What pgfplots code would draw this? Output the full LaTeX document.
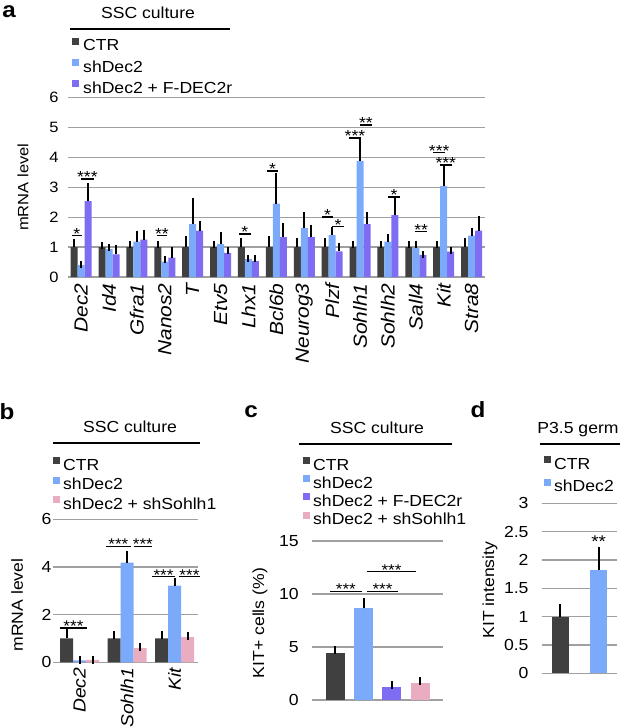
\documentclass[border=0pt]{standalone}
\usepackage{fontspec}
\setmainfont{Liberation Sans}[FakeStretch=1.1]
\usepackage{pgfplots}
\pgfplotsset{compat=1.18}
\definecolor{ctr}{RGB}{64,64,64}
\definecolor{shd}{RGB}{124,170,250}
\definecolor{fdec}{RGB}{126,108,242}
\definecolor{pnk}{RGB}{234,172,192}
\definecolor{gridc}{RGB}{160,160,160}
\newcommand\fs[1]{\fontsize{#1}{#1}\selectfont}
\newcommand\sigsize{16}
\newcommand\sig[4]{\draw[line width=1.5pt] (axis cs:#1,#3) -- (axis cs:#2,#3) node[midway, anchor=base, inner sep=0pt, yshift=-3.5pt, font=\fs{\sigsize}] {#4};}
\pgfplotsset{
  base/.style={
    scale only axis,
    axis x line=bottom, axis y line=left,
    x axis line style={draw=gridc, line width=1.2pt, -},
    y axis line style={draw=none},
    major tick length=0pt,
    ymajorgrids, grid style={gridc, line width=1.2pt},
    /pgf/number format/assume math mode=true,
    clip=false,
    legend cell align=left,
  },
  errb/.style={error bars/.cd, y dir=plus, y explicit,
    error bar style={black, line width=2pt},
    error mark options={black, line width=2pt, mark size=#1}},
  sq/.style={legend image code/.code={\fill[##1, draw=none] (0pt,2pt) rectangle (7pt,9pt);}},
}
\begin{document}
\begin{tikzpicture}
\path[use as bounding box] (0pt,0pt) rectangle (620pt,-727pt);
% ---------------- panel a
\begin{axis}[base, at={(68pt,-277pt)}, anchor=south west,
  width=417pt, height=179.5pt,
  xmin=-0.47, xmax=14.48, ymin=0, ymax=6, ytick={0,1,2,3,4,5,6},
  ybar=0pt, bar width=7pt,
  xtick={0,...,14},
  xticklabels={Dec2,Id4,Gfra1,Nanos2,T,Etv5,Lhx1,Bcl6b,Neurog3,Plzf,Sohlh1,Sohlh2,Sall4,Kit,Stra8},
  xticklabel style={font=\fs{19}\itshape, rotate=90, anchor=east},
  xticklabel shift=3pt,
  yticklabel style={font=\fs{15}}, yticklabel shift=6pt,
  ylabel={mRNA level}, ylabel style={font=\fs{15}, at={(rel axis cs:-0.108,0.5)}, anchor=center},
  legend style={at={(rel axis cs:0.0096,1.335)}, anchor=north west, draw=none, fill=none, inner sep=0pt,
    font=\fs{16}, row sep=5pt, column sep=4pt, nodes={inner sep=0pt, text height=11.5pt, text depth=3pt}},
]
\addplot[fill=ctr, draw=none, sq, errb=3.5pt] coordinates {
(0,1.0) +- (0,0.15) (1,1.0) +- (0,0.05) (2,1.0) +- (0,0.07) (3,1.0) +- (0,0.07) (4,1.0) +- (0,0.25)
(5,1.0) +- (0,0.10) (6,1.0) +- (0,0.18) (7,1.0) +- (0,0.25) (8,1.0) +- (0,0.18) (9,1.0) +- (0,0.18)
(10,1.0) +- (0,0.09) (11,1.0) +- (0,0.07) (12,1.0) +- (0,0.07) (13,1.0) +- (0,0.07) (14,1.0) +- (0,0.18)};
\addplot[fill=shd, draw=none, sq, errb=3.5pt] coordinates {
(0,0.40) +- (0,0.01) (1,0.93) +- (0,0.05) (2,1.18) +- (0,0.25) (3,0.51) +- (0,0.08) (4,1.77) +- (0,0.74)
(5,1.10) +- (0,0.30) (6,0.60) +- (0,0.03) (7,2.45) +- (0,0.92) (8,1.64) +- (0,0.40) (9,1.40) +- (0,0.14)
(10,3.88) +- (0,0.65) (11,1.18) +- (0,0.14) (12,0.98) +- (0,0.10) (13,3.04) +- (0,0.57) (14,1.38) +- (0,0.14)};
\addplot[fill=fdec, draw=none, sq, errb=3.5pt] coordinates {
(0,2.54) +- (0,0.48) (1,0.76) +- (0,0.18) (2,1.25) +- (0,0.21) (3,0.65) +- (0,0.23) (4,1.55) +- (0,0.19)
(5,0.81) +- (0,0.06) (6,0.53) +- (0,0.08) (7,1.33) +- (0,0.37) (8,1.34) +- (0,0.29) (9,0.86) +- (0,0.17)
(10,1.77) +- (0,0.28) (11,2.07) +- (0,0.50) (12,0.74) +- (0,0.01) (13,0.85) +- (0,0.05) (14,1.55) +- (0,0.38)};
\legend{CTR, shDec2, shDec2 + F-DEC2r}
\sig{-0.33}{0.02}{1.38}{*}
\sig{-0.01}{0.46}{3.27}{***}
\sig{2.71}{3.09}{1.38}{**}
\sig{5.66}{6.08}{1.44}{*}
\sig{6.66}{7.07}{3.55}{*}
\sig{8.63}{9.04}{2.0}{*}
\sig{9.0}{9.43}{1.68}{*}
\sig{9.62}{10.02}{4.64}{***}
\sig{10.0}{10.42}{5.08}{**}
\sig{11.01}{11.43}{2.67}{*}
\sig{11.97}{12.41}{1.52}{**}
\sig{12.63}{13.05}{4.16}{***}
\sig{12.85}{13.3}{3.75}{***}
\end{axis}
\node[font=\bfseries\fs{22}] at (9pt,-12pt) {a};
\node[font=\fs{16}] at (148pt,-13pt) {SSC culture};
\draw[line width=1.4pt] (70pt,-29pt) -- (230pt,-29pt);
\renewcommand\sigsize{15.5}
% ---------------- panel b
\begin{axis}[base, at={(53pt,-662.3pt)}, anchor=south west,
  width=145pt, height=143pt,
  xmin=-0.56, xmax=2.49, ymin=0, ymax=6, ytick={0,2,4,6},
  ybar=0pt, bar width=13pt,
  xtick={0,1,2}, xticklabels={Dec2,Sohlh1,Kit},
  xticklabel style={font=\fs{17.5}\itshape, rotate=90, anchor=east},
  xticklabel shift=2pt,
  yticklabel style={font=\fs{16}}, yticklabel shift=-2pt,
  ylabel={mRNA level}, ylabel style={font=\fs{16}, at={(rel axis cs:-0.248,0.40)}, anchor=center},
  legend style={at={(rel axis cs:0,1.438)}, anchor=north west, draw=none, fill=none, inner sep=0pt,
    font=\fs{16}, row sep=3pt, column sep=3pt, nodes={inner sep=0pt, text height=12pt, text depth=3.5pt}},
]
\addplot[fill=ctr, draw=none, sq, errb=4pt] coordinates {(0,1.0) +- (0,0.22) (1,1.0) +- (0,0.15) (2,1.0) +- (0,0.15)};
\addplot[fill=shd, draw=none, sq, errb=4pt] coordinates {(0,0.08) +- (0,0.01) (1,4.18) +- (0,0.32) (2,3.22) +- (0,0.17)};
\addplot[fill=pnk, draw=none, sq, errb=4pt] coordinates {(0,0.10) +- (0,0.01) (1,0.59) +- (0,0.07) (2,1.06) +- (0,0.04)};
\legend{CTR, shDec2, shDec2 + shSohlh1}
\sig{-0.41}{0.15}{1.43}{***}
\sig{0.55}{1.08}{4.86}{***}
\sig{1.14}{1.52}{4.86}{***}
\sig{1.53}{2.0}{3.6}{***}
\sig{2.08}{2.54}{3.6}{***}
\end{axis}
\node[font=\bfseries\fs{22}] at (7pt,-412pt) {b};
\node[font=\fs{16}] at (130pt,-427pt) {SSC culture};
\draw[line width=1.4pt] (53pt,-443pt) -- (200pt,-443pt);
% ---------------- panel c
\begin{axis}[base, at={(312pt,-700pt)}, anchor=south west,
  width=131pt, height=159pt,
  xmin=-0.82, xmax=3.8, ymin=0, ymax=15, ytick={0,5,10,15},
  ybar, bar width=19pt, bar shift=0pt,
  xtick=\empty,
  yticklabel style={font=\fs{16}}, yticklabel shift=9.7pt,
  ylabel={KIT+ cells (\%)}, ylabel style={font=\fs{16}, at={(rel axis cs:-0.397,0.484)}, anchor=center},
  legend style={at={(rel axis cs:-0.069,1.53)}, anchor=north west, draw=none, fill=none, inner sep=0pt,
    font=\fs{16}, row sep=1.5pt, column sep=3pt, nodes={inner sep=0pt, text height=12pt, text depth=3.5pt}},
]
\addplot[fill=ctr, draw=none, sq, errb=4pt] coordinates {(0,4.4) +- (0,0.35)};
\addplot[fill=shd, draw=none, sq, errb=4pt] coordinates {(1,8.65) +- (0,0.6)};
\addplot[fill=fdec, draw=none, sq, errb=4pt] coordinates {(2,1.25) +- (0,0.13)};
\addplot[fill=pnk, draw=none, sq, errb=4pt] coordinates {(3,1.65) +- (0,0.13)};
\legend{CTR, shDec2, shDec2 + F-DEC2r, shDec2 + shSohlh1}
\sig{-0.18}{0.93}{10.25}{***}
\sig{1.11}{2.22}{10.25}{***}
\sig{1.11}{2.86}{12.1}{***}
\end{axis}
\node[font=\bfseries\fs{22}] at (251pt,-412pt) {c};
\node[font=\fs{16}] at (377pt,-428pt) {SSC culture};
\draw[line width=1.4pt] (299pt,-444pt) -- (452pt,-444pt);
% ---------------- panel d
\begin{axis}[base, at={(541.7pt,-673.3pt)}, anchor=south west,
  width=75pt, height=170pt,
  xmin=-0.49, xmax=1.47, ymin=0, ymax=3, ytick={0,0.5,1,1.5,2,2.5,3},
  ybar, bar width=17.5pt, bar shift=0pt,
  xtick=\empty,
  yticklabel style={font=\fs{16}}, yticklabel shift=9.7pt,
  ylabel={KIT intensity}, ylabel style={font=\fs{16}, at={(rel axis cs:-0.69,0.49)}, anchor=center},
  legend style={at={(rel axis cs:0.03,1.28)}, anchor=north west, draw=none, fill=none, inner sep=0pt,
    font=\fs{16}, row sep=6pt, column sep=3pt, nodes={inner sep=0pt, text height=12pt, text depth=3.5pt}},
]
\addplot[fill=ctr, draw=none, sq, errb=3.5pt] coordinates {(0,1.0) +- (0,0.17)};
\addplot[fill=shd, draw=none, sq, errb=3.5pt] coordinates {(1,1.82) +- (0,0.34)};
\legend{CTR, shDec2}
\node[anchor=base, inner sep=0pt, font=\fs{17}] at (axis cs:1,2.22) {**};
\end{axis}
\node[font=\bfseries\fs{22}] at (478pt,-410pt) {d};
\node[font=\fs{16}] at (578pt,-430pt) {P3.5 germ};
\draw[line width=1.4pt] (540pt,-444pt) -- (620pt,-444pt);
\end{tikzpicture}
\end{document}
